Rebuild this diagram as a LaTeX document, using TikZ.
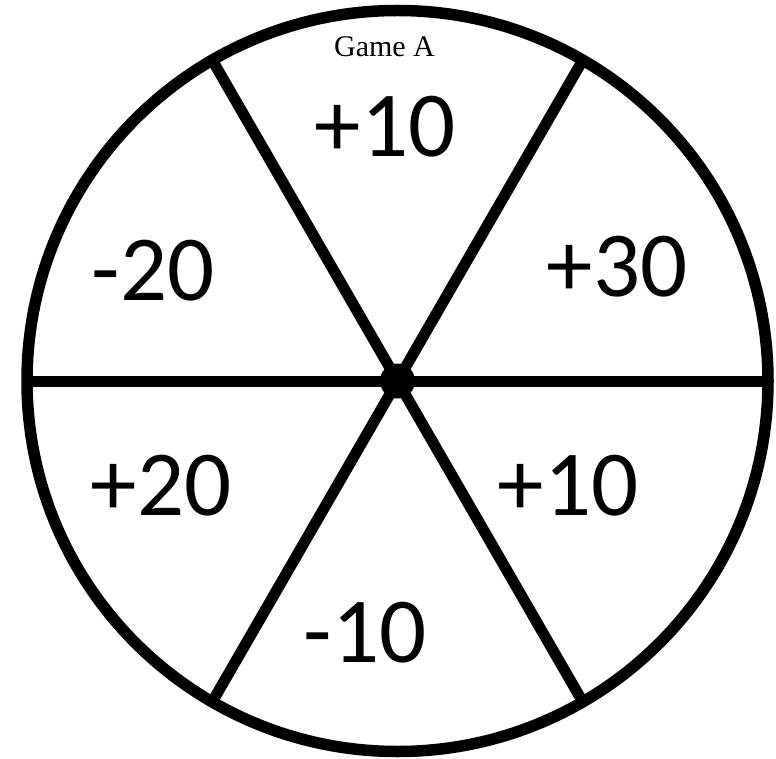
\documentclass[tikz,border=0pt]{standalone}
\usepackage{fontspec}
\usetikzlibrary{calc}
\setmainfont{Liberation Serif}
\newfontfamily\numfont{Carlito}
\begin{document}
\begin{tikzpicture}[x=1pt,y=-1pt,
  rim/.style={line width=11.5pt},
  spoke/.style={line width=11pt},
  val/.style={anchor=base,inner sep=0pt,font=\numfont\fontsize{93}{93}\selectfont},
  title/.style={anchor=base,inner sep=0pt,font=\fontsize{30}{30}\selectfont}]
\useasboundingbox[fill=white] (0,0) rectangle (776,759);
\coordinate (c) at (397.5,381);
\draw[rim] (c) circle[radius=370.5];
\foreach \a/\n in {0/e,60/se,120/sw,180/w,240/nw,300/ne}{
  \coordinate (p\n) at ($(c)+(\a:370)$);
}
\foreach \n in {e,se,sw,w,nw,ne}{
  \draw[spoke] (c) -- (p\n);
}
\fill (c) circle[radius=17.5];
\node[title] (t) at (384.5,57) {Game A};
\node[val] (v1) at (385,157) {+10};
\node[val] (v2) at (617,297) {+30};
\node[val] (v3) at (153,300) {-20};
\node[val] (v4) at (161,515) {+20};
\node[val] (v5) at (568,515) {+10};
\node[val] (v6) at (365,662) {-10};
\end{tikzpicture}
\end{document}
